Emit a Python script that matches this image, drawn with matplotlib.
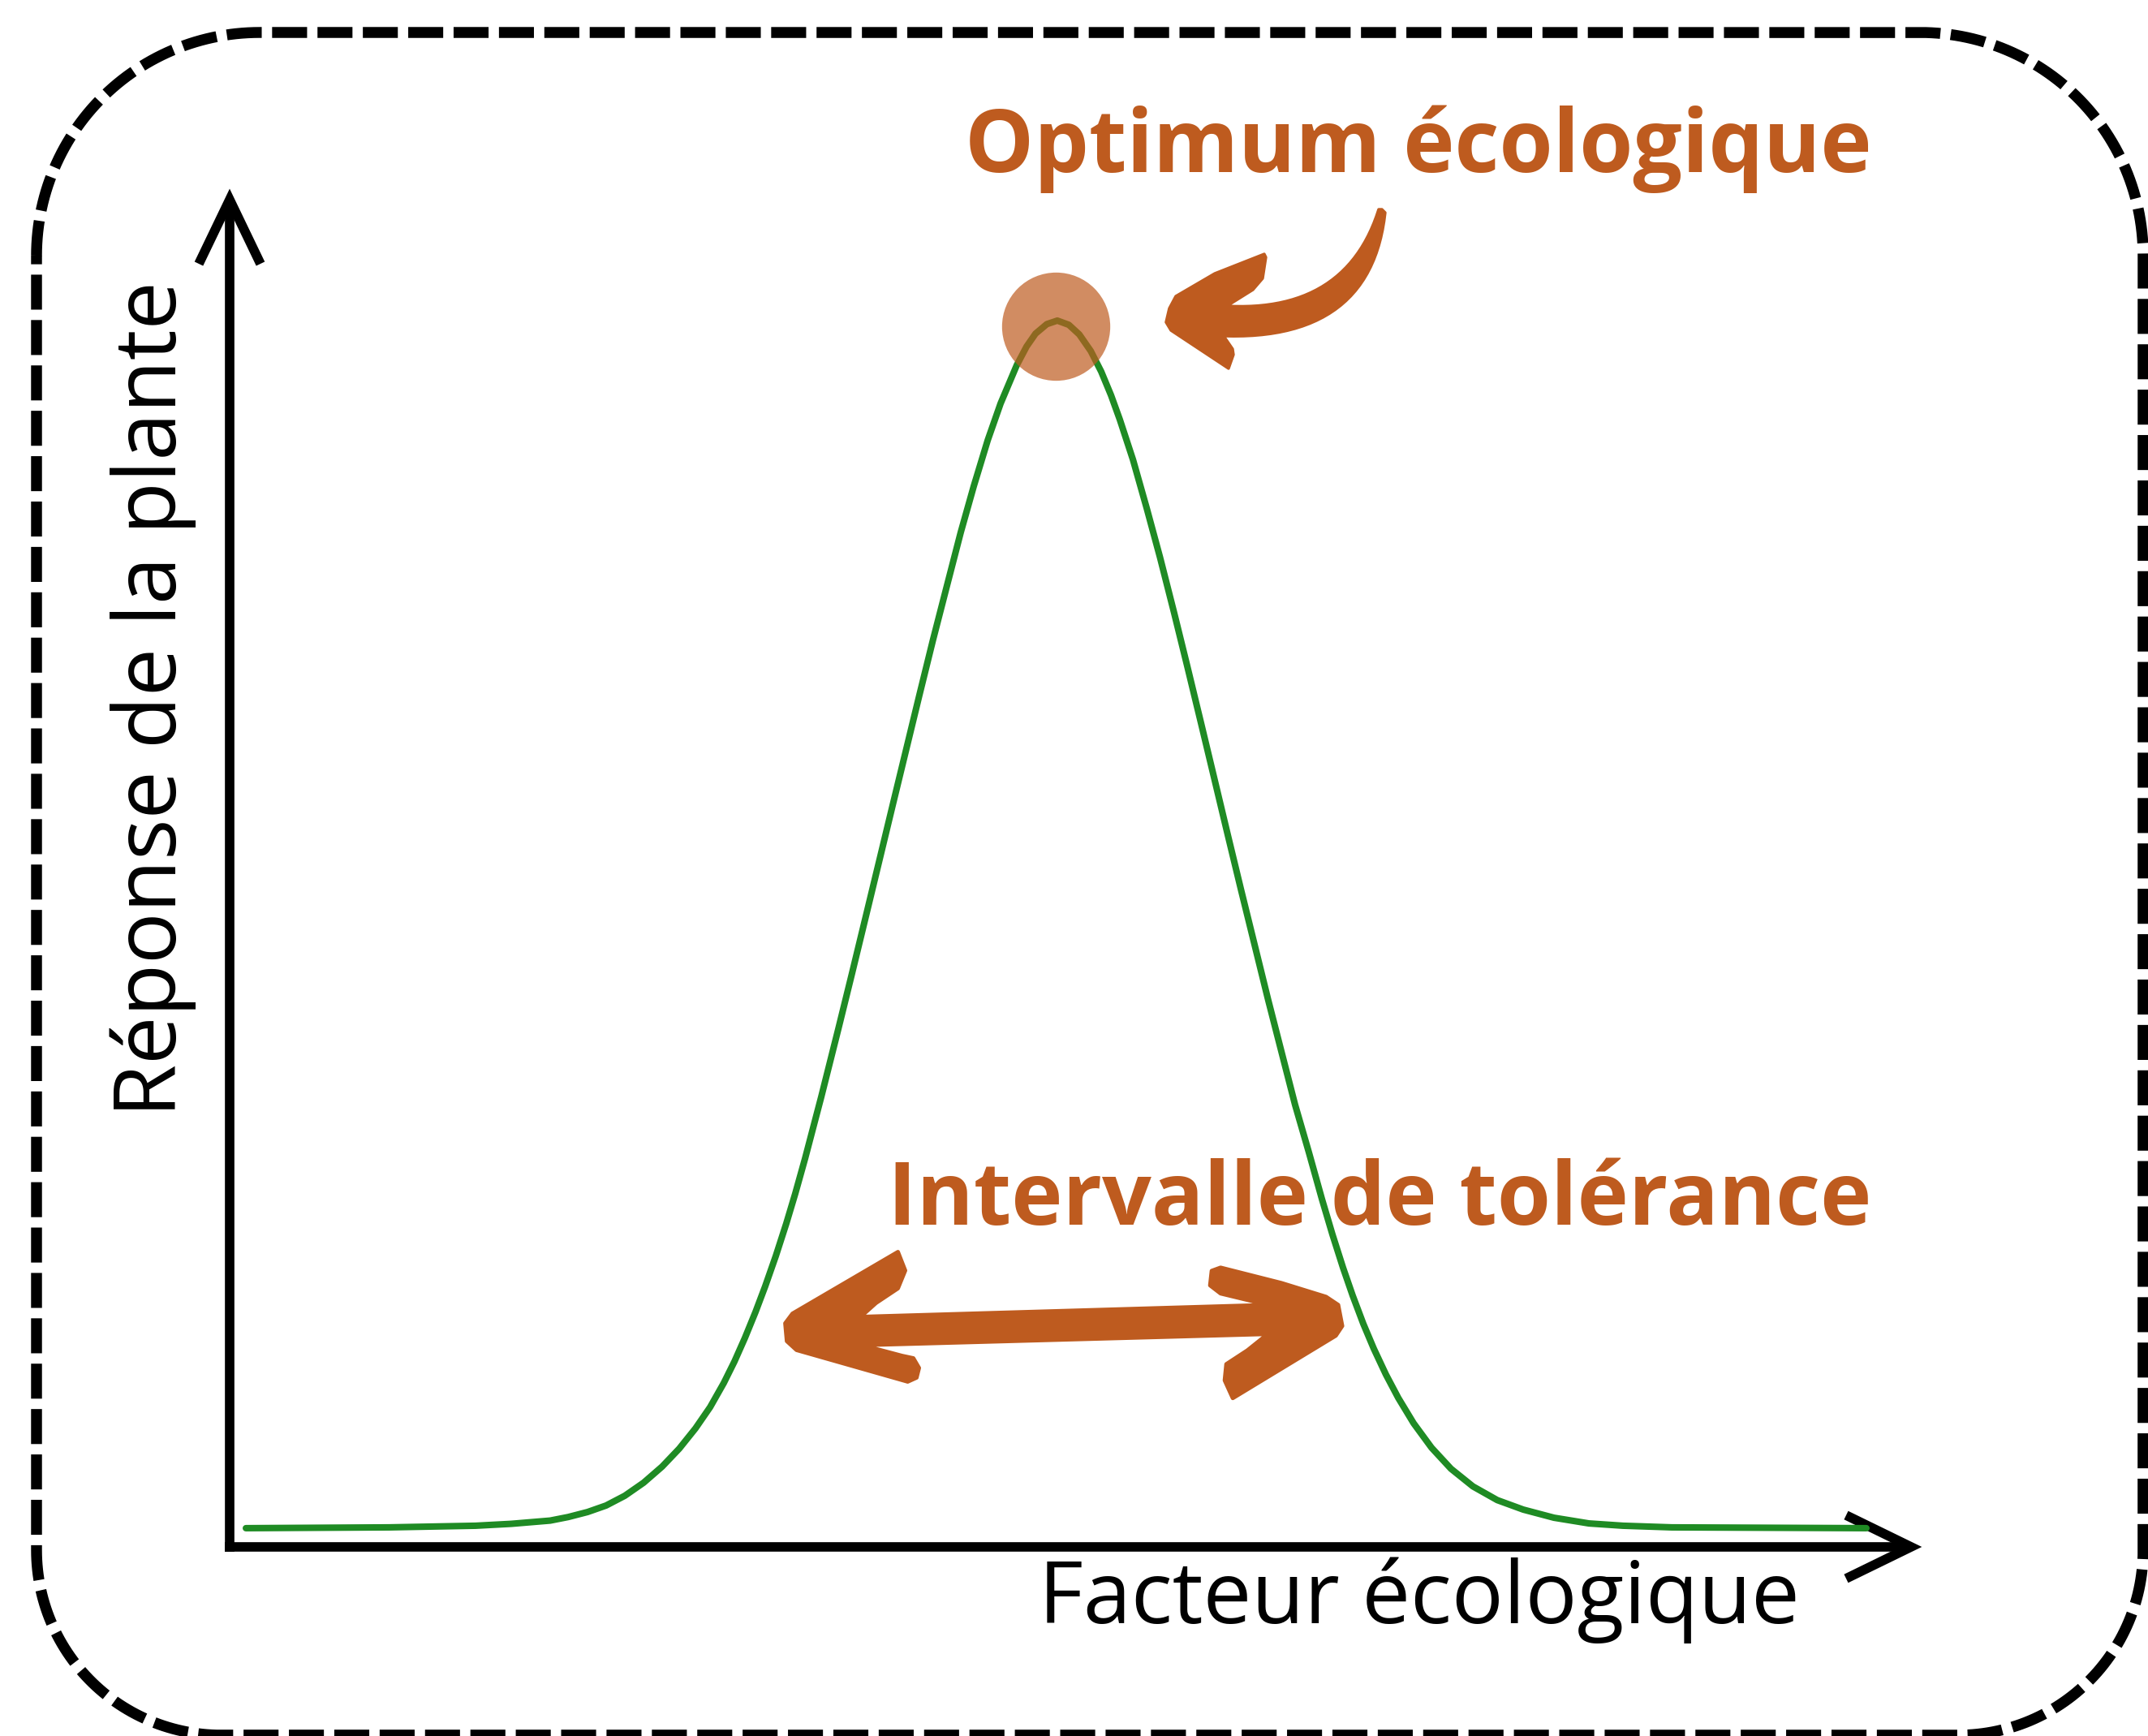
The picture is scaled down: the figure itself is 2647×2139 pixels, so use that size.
import numpy as np
import matplotlib.pyplot as plt
from matplotlib.patches import Polygon
from matplotlib.transforms import offset_copy

W, H, DPI = 2647, 2139, 100
ORANGE = '#BE5B1F'
GREEN = '#1f8b24'

# plant response curve (factor 0-100, response 0-100)
factor = [0.77, 9.27, 14.37, 16.48, 18.79, 19.85, 21.00, 22.10, 23.21, 24.32,
          25.42, 26.43, 27.39, 28.26, 29.07, 29.70, 30.32, 30.95, 31.52, 32.15,
          32.77, 33.30, 33.88, 34.84, 35.85, 36.65, 37.48, 38.27, 39.07, 39.86,
          40.65, 41.45, 42.29, 43.10, 43.87, 44.70, 45.46, 46.42, 47.00, 47.53,
          48.20, 48.82, 49.50, 50.12, 50.80, 51.42, 52.00, 52.52, 53.30, 54.11,
          54.90, 55.74, 56.50, 57.33, 58.10, 58.91, 59.70, 60.55, 61.30, 62.13,
          62.90, 63.72, 64.49, 65.11, 65.74, 66.31, 66.94, 67.56, 68.28, 69.01,
          69.92, 70.98, 72.13, 73.43, 74.87, 76.41, 78.23, 80.30, 82.32, 85.20,
          96.73]
response = [1.32, 1.38, 1.50, 1.64, 1.88, 2.14, 2.51, 2.99, 3.71, 4.67,
            5.86, 7.18, 8.67, 10.24, 12.02, 13.60, 15.34, 17.26, 19.14, 21.38,
            23.77, 25.97, 28.55, 33.10, 38.10, 42.14, 46.40, 50.47, 54.60, 58.65,
            62.70, 66.74, 70.80, 74.70, 78.10, 81.50, 84.20, 87.03, 88.40, 89.35,
            90.05, 90.31, 90.00, 89.29, 88.07, 86.55, 84.81, 83.02, 80.06, 76.50,
            72.87, 68.76, 64.92, 60.65, 56.65, 52.43, 48.36, 44.07, 40.28, 36.25,
            32.52, 29.00, 25.57, 22.97, 20.51, 18.46, 16.38, 14.55, 12.64, 10.92,
            9.05, 7.25, 5.70, 4.40, 3.39, 2.69, 2.09, 1.67, 1.50, 1.38,
            1.32]
tolerance = [32.8, 65.6]
tolerance_level = [16.0, 16.4]

title_opt = "Optimum écologique"
title_tol = "Intervalle de tolérance"
xlabel = "Facteur écologique"
ylabel = "Réponse de la plante"

plt.rcParams['font.family'] = ['Open Sans', 'DejaVu Sans']

fig = plt.figure(figsize=(W / DPI, H / DPI), dpi=DPI)
fig.patch.set_facecolor('white')

# pixel overlay for decorations (y pointing down)
deco = fig.add_axes([0, 0, 1, 1])
deco.set_xlim(0, W)
deco.set_ylim(H, 0)
deco.axis('off')

# data axes: origin at the corner of the drawn axes, 100 units up to the arrow tips
x0, y0, x1, y1 = 287, 1905, 2368, 233
ax = fig.add_axes([x0 / W, 1 - y0 / H, (x1 - x0) / W, (y0 - y1) / H])
ax.set_xlim(0, 100)
ax.set_ylim(0, 100)
ax.axis('off')
ax.patch.set_alpha(0)


def to_px(x, y):
    return deco.transData.inverted().transform(ax.transData.transform((x, y)))


def bezier(p0, p1, p2, n=30):
    t = np.linspace(0, 1, n)[:, None]
    p0, p1, p2 = map(np.array, (p0, p1, p2))
    return (1 - t) ** 2 * p0 + 2 * (1 - t) * t * p1 + t ** 2 * p2


# dashed rounded frame
def rounded_rect(l, t, r, b, rt, rb, n=60):
    pts = []
    for cx, cy, rad, a0, a1 in [(l + rt, t + rt, rt, np.pi, 1.5 * np.pi),
                                (r - rt, t + rt, rt, 1.5 * np.pi, 2 * np.pi),
                                (r - rb, b - rb, rb, 0, 0.5 * np.pi),
                                (l + rb, b - rb, rb, 0.5 * np.pi, np.pi)]:
        a = np.linspace(a0, a1, n)
        pts += list(zip(cx + rad * np.cos(a), cy + rad * np.sin(a)))
    pts.append(pts[0])
    return np.array(pts)


frame = rounded_rect(45, 40, 2641, 2138, 275, 228)
deco.plot(frame[:, 0], frame[:, 1], color='black', lw=9.7,
          dashes=(3.2, 0.95), solid_capstyle='butt', dash_capstyle='butt')

# axes with open arrow heads
lw_ax = 8.4
deco.plot([283, 283], [1912, 246], color='black', lw=lw_ax, solid_capstyle='butt')
deco.plot([245, 283, 321], [325, 246, 325], color='black', lw=lw_ax,
          solid_joinstyle='miter', solid_capstyle='butt')
deco.plot([277, 2355], [1906, 1906], color='black', lw=lw_ax, solid_capstyle='butt')
deco.plot([2275, 2355, 2275], [1867, 1906, 1945], color='black', lw=lw_ax,
          solid_joinstyle='miter', solid_capstyle='butt')

# response curve
ax.plot(factor, response, color=GREEN, lw=5.8, solid_joinstyle='round',
        solid_capstyle='round', zorder=3)

# optimum (disc sits a few pixels under the crest)
i_opt = int(np.argmax(response))
disc_tr = offset_copy(ax.transData, fig=fig, x=-2, y=-7, units='dots')
ax.plot(factor[i_opt], response[i_opt], 'o', ms=96, color=ORANGE, alpha=0.7,
        mec='none', zorder=4, transform=disc_tr)

# curved arrow pointing at the optimum (brush shape, pixel offsets from its tip)
px, py = to_px(factor[i_opt], response[i_opt])
tip = np.array([px + 134, py + 2])
outer = bezier((270, -135), (253, 23), (71, 17))
head = np.array([(82, 33), (83, 40), (77, 57), (6, 10), (0, 0), (4, -17),
                 (12, -32), (60, -60), (121, -84), (123, -80), (119, -54),
                 (107, -40)])
inner = bezier((75, -20), (222, -12), (262, -139))
curved = np.vstack([outer, head, inner, [(266, -139)]])
deco.add_patch(Polygon(tip + curved, closed=True, fc=ORANGE, ec=ORANGE,
                       lw=2.5, joinstyle='round', zorder=5))

# double arrow for the tolerance interval
L = np.array(to_px(tolerance[0], tolerance_level[0]))
R = np.array(to_px(tolerance[1], tolerance_level[1]))
left_head = [(137, -95), (7, -19), (-2, -7), (0, 15), (12, 26), (149, 65), (160, 60),
             (163, 48), (156, 36), (142, 33), (93, 20)]
right_head = [(-90, 13), (-115, 33), (-141, 50), (-143, 70), (-133, 92), (-6, 15),
              (2, 3), (-3, -23), (-18, -33), (-73, -50), (-148, -69), (-159, -65),
              (-161, -47), (-148, -37), (-90, -23)]
left_back = [(91, -15), (110, -32), (137, -50), (146, -72)]
outline = ([L + p for p in left_head] + [R + p for p in right_head]
           + [L + p for p in left_back])
deco.add_patch(Polygon(np.array(outline), closed=True, fc=ORANGE, ec=ORANGE, lw=3.5,
                       joinstyle='round', zorder=5))

# texts
deco.text(1189, 212, title_opt, color=ORANGE, fontsize=77, fontweight='bold',
          ha='left', va='baseline', zorder=6)
deco.text(1094, 1509, title_tol, color=ORANGE, fontsize=77, fontweight='bold',
          ha='left', va='baseline', zorder=6)
deco.text(1280, 2000, xlabel, color='black', fontsize=76.5, ha='left', va='baseline')
deco.text(217, 1376, ylabel, color='black', fontsize=76, rotation=90,
          rotation_mode='anchor', ha='left', va='baseline')

fig.savefig('out.png', dpi=DPI, facecolor='white')
